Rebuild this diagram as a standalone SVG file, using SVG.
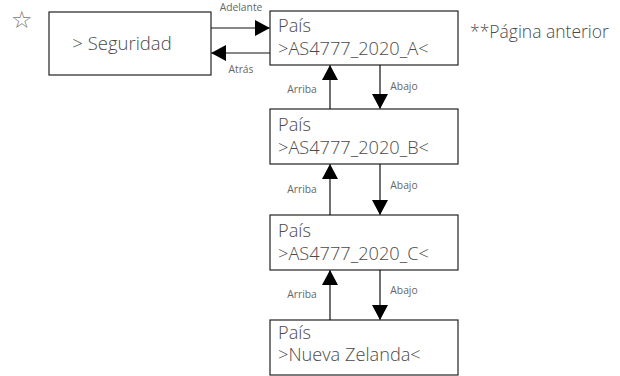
<svg xmlns="http://www.w3.org/2000/svg" width="620" height="376" viewBox="0 0 620 376">
  <defs>
    <style>
      .box { fill: #ffffff; stroke: #222222; stroke-width: 1.2; }
      .txt { font-family: "Open Sans", "Liberation Sans", sans-serif; font-weight: 300; font-size: 18.2px; fill: #4a4a4a; }
      .lbl { font-family: "Open Sans", "Liberation Sans", sans-serif; font-weight: 400; font-size: 10.3px; fill: #666666; }
      .edge { stroke: #111111; stroke-width: 1.2; fill: none; }
    </style>
    <marker id="head" viewBox="0 0 14 16" refX="15" refY="8" markerWidth="14" markerHeight="16" markerUnits="userSpaceOnUse" orient="auto">
      <path d="M0,0 L15,8 L0,16 Z" fill="#000000"/>
    </marker>
  </defs>

  <rect width="620" height="376" fill="#ffffff"/>

  <!-- favourite marker -->
  <text x="11" y="28" style="font-family: 'DejaVu Sans', sans-serif; font-size: 24px; fill: #777777;">☆</text>

  <g id="seguridad">
    <rect class="box" x="49" y="12" width="162" height="63"/>
    <text class="txt" x="122" y="50" text-anchor="middle" style="font-size: 18.5px;">&gt; Seguridad</text>
  </g>

  <g id="pais-a">
    <rect class="box" x="270" y="11" width="188" height="54"/>
    <text class="txt" x="278" y="32">País</text>
    <text class="txt" x="278" y="55">&gt;AS4777_2020_A&lt;</text>
  </g>

  <g id="pais-b">
    <rect class="box" x="270" y="109" width="188" height="55"/>
    <text class="txt" x="278" y="131">País</text>
    <text class="txt" x="278" y="154">&gt;AS4777_2020_B&lt;</text>
  </g>

  <g id="pais-c">
    <rect class="box" x="270" y="215" width="188" height="55"/>
    <text class="txt" x="278" y="237">País</text>
    <text class="txt" x="278" y="260">&gt;AS4777_2020_C&lt;</text>
  </g>

  <g id="pais-d">
    <rect class="box" x="270" y="320" width="188" height="55"/>
    <text class="txt" x="278" y="339">País</text>
    <text class="txt" x="278" y="361">&gt;Nueva Zelanda&lt;</text>
  </g>

  <text class="txt" x="470" y="38" style="font-size: 17.5px;">**Página anterior</text>

  <g id="connectors">
    <line class="edge" x1="211" y1="28" x2="270" y2="28" marker-end="url(#head)"/>
    <line class="edge" x1="270" y1="53" x2="211" y2="53" marker-end="url(#head)"/>
    <line class="edge" x1="330" y1="109" x2="330" y2="65" marker-end="url(#head)"/>
    <line class="edge" x1="380" y1="65" x2="380" y2="109" marker-end="url(#head)"/>
    <line class="edge" x1="330" y1="215" x2="330" y2="164" marker-end="url(#head)"/>
    <line class="edge" x1="380" y1="164" x2="380" y2="215" marker-end="url(#head)"/>
    <line class="edge" x1="330" y1="320" x2="330" y2="270" marker-end="url(#head)"/>
    <line class="edge" x1="380" y1="270" x2="380" y2="320" marker-end="url(#head)"/>

    <text class="lbl" x="241" y="11" text-anchor="middle">Adelante</text>
    <text class="lbl" x="241" y="73" text-anchor="middle">Atrás</text>
    <text class="lbl" x="302" y="93" text-anchor="middle">Arriba</text>
    <text class="lbl" x="404" y="90" text-anchor="middle">Abajo</text>
    <text class="lbl" x="302" y="193" text-anchor="middle">Arriba</text>
    <text class="lbl" x="404" y="189" text-anchor="middle">Abajo</text>
    <text class="lbl" x="302" y="298" text-anchor="middle">Arriba</text>
    <text class="lbl" x="404" y="294" text-anchor="middle">Abajo</text>
  </g>
</svg>
